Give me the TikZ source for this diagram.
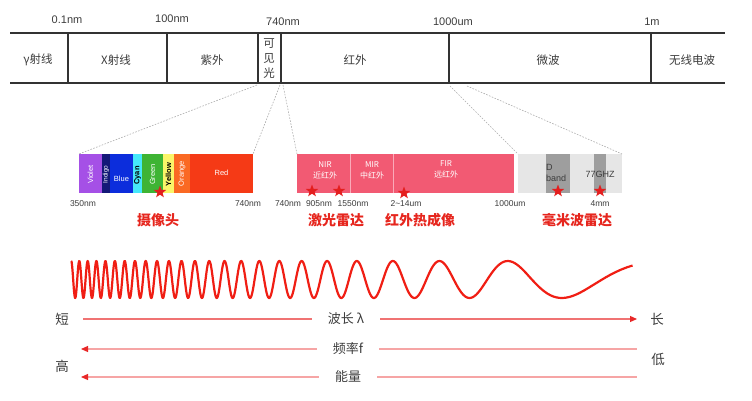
\documentclass[tikz,border=0pt]{standalone}
\usepackage{fontspec}
\setmainfont{Liberation Sans}
\newfontfamily\cjk{Noto Sans CJK SC}
\usepackage{tikz}
\usetikzlibrary{positioning, shapes.geometric, arrows.meta}

\definecolor{bandgray}{RGB}{51,51,51}
\definecolor{txtgray}{RGB}{60,60,60}
\definecolor{labelred}{RGB}{230,38,30}
\definecolor{starred}{RGB}{228,30,30}
\definecolor{wavered}{RGB}{240,30,20}
\definecolor{linered}{RGB}{240,115,115}
\definecolor{linepink}{RGB}{246,165,165}
\definecolor{tipred}{RGB}{232,40,40}
\definecolor{irpink}{RGB}{242,90,115}
\definecolor{irline}{RGB}{250,170,185}
\definecolor{mwlight}{RGB}{230,230,230}
\definecolor{mwdark}{RGB}{158,158,158}
\definecolor{cViolet}{RGB}{165,80,230}
\definecolor{cIndigo}{RGB}{20,25,120}
\definecolor{cBlue}{RGB}{12,45,220}
\definecolor{cCyan}{RGB}{70,232,250}
\definecolor{cGreen}{RGB}{62,180,52}
\definecolor{cYellow}{RGB}{250,245,105}
\definecolor{cOrange}{RGB}{250,105,35}
\definecolor{cRed}{RGB}{245,58,22}

\tikzset{
  band/.style={line width=2.4pt, draw=bandgray},
  seg/.style={minimum height=39pt, inner sep=0pt, outer sep=0pt},
  zoomline/.style={draw=gray!65, line width=0.6pt, dash pattern=on 1.6pt off 1.4pt},
  toplabel/.style={font=\fontsize{11}{13}\selectfont, text=txtgray},
  bandlabel/.style={font=\cjk\fontsize{11.5}{15}\selectfont, text=txtgray},
  tinytxt/.style={font=\fontsize{7.5}{8}\selectfont, text=white},
  irtxt/.style={font=\cjk\fontsize{8}{11}\selectfont, text=white, align=center},
  scaletxt/.style={font=\fontsize{8.5}{10}\selectfont, text=txtgray},
  hint/.style={star, star points=5, star point ratio=2.4, fill=starred,
    minimum size=13pt, inner sep=0pt},
  applabel/.style={font=\cjk\bfseries\fontsize{14}{16}\selectfont, text=labelred},
  sidetxt/.style={font=\cjk\fontsize{13.5}{16}\selectfont, text=txtgray},
  axistxt/.style={font=\cjk\fontsize{13}{16}\selectfont, text=txtgray, inner xsep=16pt},
  axisline/.style={line width=1.2pt},
}

\begin{document}
\begin{tikzpicture}[x=1pt, y=-1pt]
\useasboundingbox (0,0) rectangle (752,400);

% spectrum band
\draw[band] (10,33) -- (725,33);
\draw[band] (10,83) -- (725,83);
\foreach \x in {68,167,258,281,449,651}
    \draw[band] (\x,33) -- (\x,83);

\node[toplabel] at (67,20) {0.1nm};
\node[toplabel] at (172,19) {100nm};
\node[toplabel] at (283,22) {740nm};
\node[toplabel] at (453,22) {1000um};
\node[toplabel] at (652,22) {1m};

\node[bandlabel] (gamma) at (38,60) {γ射线};
\node[bandlabel] (xray) at (116,60) {X射线};
\node[bandlabel] (uv) at (212,60) {紫外};
\node[bandlabel, align=center] (vis) at (269,59) {可\\见\\光};
\node[bandlabel] (ir) at (355,60) {红外};
\node[bandlabel] (mw) at (548,60) {微波};
\node[bandlabel] (radio) at (692,60) {无线电波};

% visible light
\node[seg, fill=cViolet, minimum width=23pt, anchor=north west] (violet) at (79,154) {};
\node[seg, fill=cIndigo, minimum width=8pt, right=0pt of violet] (indigo) {};
\node[seg, fill=cBlue, minimum width=23pt, right=0pt of indigo] (blue) {};
\node[seg, fill=cCyan, minimum width=9pt, right=0pt of blue] (cyan) {};
\node[seg, fill=cGreen, minimum width=21pt, right=0pt of cyan] (green) {};
\node[seg, fill=cYellow, minimum width=11pt, right=0pt of green] (yellow) {};
\node[seg, fill=cOrange, minimum width=16pt, right=0pt of yellow] (orange) {};
\node[seg, fill=cRed, minimum width=63pt, right=0pt of orange] (red) {};

\node[tinytxt, rotate=90] at ([yshift=-1pt]violet) {Violet};
\node[tinytxt, rotate=90, font=\fontsize{6.5}{7}\selectfont] at ([yshift=-1pt]indigo) {Indigo};
\node[tinytxt] at ([yshift=-5pt]blue) {Blue};
\node[tinytxt, rotate=90, text=black, font=\bfseries\fontsize{7.5}{8}\selectfont] at ([yshift=-2pt]cyan) {Cyan};
\node[tinytxt, rotate=90] at ([yshift=-1pt]green) {Green};
\node[tinytxt, rotate=90, text=black, font=\bfseries\fontsize{7.5}{8}\selectfont] at ([yshift=-1pt]yellow) {Yellow};
\node[tinytxt, rotate=90] at ([yshift=0pt]orange) {Orange};
\node[tinytxt] at ([yshift=1pt]red) {Red};

% infrared
\node[seg, fill=irpink, minimum width=53pt, anchor=north west] (nir) at (297,154) {};
\node[seg, fill=irpink, minimum width=43pt, right=0pt of nir] (mir) {};
\node[seg, fill=irpink, minimum width=121pt, right=0pt of mir] (fir) {};
\draw[irline, line width=0.6pt] (nir.north east) -- (nir.south east);
\draw[irline, line width=0.6pt] (mir.north east) -- (mir.south east);

\node[irtxt] at (325,170) {NIR\\近红外};
\node[irtxt] at (372,170) {MIR\\中红外};
\node[irtxt] at (446,169) {FIR\\远红外};

% millimetre wave
\node[seg, fill=mwlight, minimum width=104pt, anchor=north west] (mmw) at (518,154) {};
\node[seg, fill=mwdark, minimum width=24pt, anchor=north west] (dband) at (546,154) {};
\node[seg, fill=mwdark, minimum width=12pt, anchor=north west] (radar) at (594,154) {};
\node[font=\fontsize{9}{10.5}\selectfont, text=txtgray, align=left, anchor=west, inner sep=0pt] at (546,173) {D\\band};
\node[font=\fontsize{9}{10}\selectfont, text=txtgray] at (600,174) {77GHZ};

% zoom lines
\draw[zoomline] (257,85) -- (violet.north west);
\draw[zoomline] (280,85) -- (red.north east);
\draw[zoomline] (283,85) -- (nir.north west);
\draw[zoomline] (450,86) -- (mmw.north west);
\draw[zoomline] (467,86) -- (mmw.north east);

% marks
\node[hint] at (160,192) {};
\node[hint] at (312,191) {};
\node[hint] at (339,191) {};
\node[hint] at (404,193) {};
\node[hint] at (558,191) {};
\node[hint] at (600,191) {};

\node[scaletxt] at (83,204) {350nm};
\node[scaletxt] at (248,204) {740nm};
\node[scaletxt] at (288,204) {740nm};
\node[scaletxt] at (319,204) {905nm};
\node[scaletxt] at (353,204) {1550nm};
\node[scaletxt] at (406,204) {2\textasciitilde14um};
\node[scaletxt] at (510,204) {1000um};
\node[scaletxt] at (600,204) {4mm};

\node[applabel] at (158,220) {摄像头};
\node[applabel] at (336,220) {激光雷达};
\node[applabel] at (420,220) {红外热成像};
\node[applabel] at (577,220) {毫米波雷达};

% chirped wave
\draw[wavered, line width=2.2pt, line join=round, samples=1000, domain=0:23.9, variable=\t]
    plot ({71+511.2*(1.8915-(24.2-\t)^0.2)}, {279.5-18.5*cos(360*\t)});

% trends
\node[sidetxt] at (62,319) {短};
\node[sidetxt] at (657,319) {长};
\node[sidetxt] at (62,366) {高};
\node[sidetxt] at (658,359) {低};

\node[axistxt] (wl) at (346,319) {波长 λ};
\node[axistxt] (freq) at (348,349) {频率f};
\node[axistxt] (energy) at (348,377) {能量};

\coordinate (wl-start) at (83,319);
\coordinate (wl-end) at (637,319);
\coordinate (freq-start) at (81,349);
\coordinate (freq-end) at (637,349);
\coordinate (energy-start) at (81,377);
\coordinate (energy-end) at (637,377);

\draw[axisline, linered] (wl-start) -- (wl.west);
\draw[axisline, linered, -{Triangle[length=7pt, width=6pt, color=tipred]}] (wl.east) -- (wl-end);
\draw[axisline, linepink, -{Triangle[length=7pt, width=6pt, color=tipred]}] (freq.west) -- (freq-start);
\draw[axisline, linepink] (freq.east) -- (freq-end);
\draw[axisline, linepink, -{Triangle[length=7pt, width=6pt, color=tipred]}] (energy.west) -- (energy-start);
\draw[axisline, linepink] (energy.east) -- (energy-end);
\end{tikzpicture}
\end{document}
